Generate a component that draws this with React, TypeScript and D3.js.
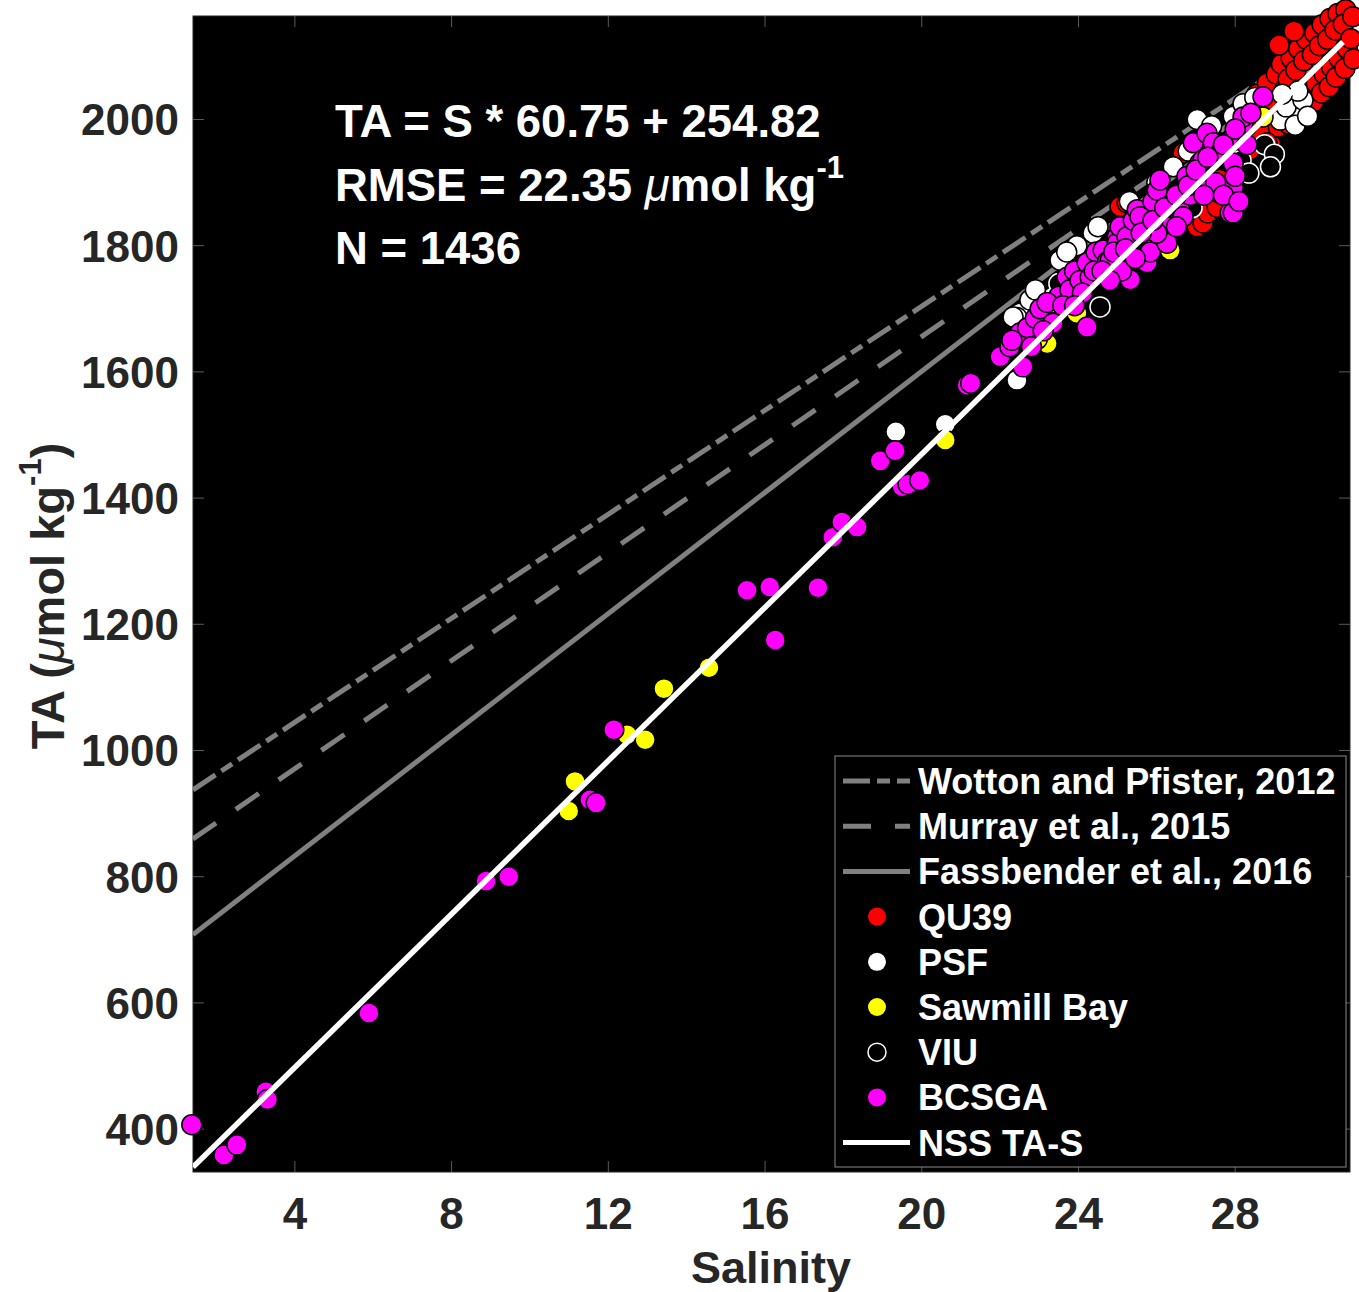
import React from 'react';
import * as d3 from 'd3';

const W = 1359;
const H = 1292;
const xDomain: [number, number] = [1.4, 30.93];
const yDomain: [number, number] = [332, 2164];
const xTicks = [4, 8, 12, 16, 20, 24, 28];
const yTicks = [400, 600, 800, 1000, 1200, 1400, 1600, 1800, 2000];
const lineSRange: [number, number] = [1.4, 30.75];

// QU39 (red)
const qu39: [number, number][] = [
  [28.55, 2040], [28.65, 1978], [28.82, 2058], [28.74, 2012], [28.9, 1962], [29.05, 2072], [28.95, 2028],
  [29.1, 1988], [29.18, 2088], [29.27, 2048], [29.22, 2003], [29.43, 2097], [29.35, 2064], [29.48, 2018],
  [29.38, 1992], [29.62, 2112], [29.55, 2078], [29.68, 2032], [29.6, 2006], [29.82, 2127], [29.75, 2093],
  [29.88, 2047], [29.8, 2017], [30.03, 2137], [29.97, 2103], [30.07, 2058], [30.0, 2028], [30.22, 2150],
  [30.15, 2117], [30.27, 2072], [30.2, 2042], [30.42, 2160], [30.36, 2127], [30.46, 2083], [30.4, 2052],
  [30.62, 2168], [30.55, 2142], [30.65, 2097], [30.58, 2067], [30.82, 2174], [30.76, 2151], [30.86, 2112],
  [30.8, 2081], [31.0, 2163], [30.95, 2128], [31.02, 2096], [29.12, 2118], [29.5, 2140],
  [25.06, 1862], [25.24, 1868], [26.93, 1857], [27.03, 1830], [27.18, 1836], [27.3, 1852], [27.54, 1861],
  [28.2, 1920], [28.38, 1952], [26.67, 1947], [28.81, 1963], [28.3, 1990], [28.0, 1975], [27.6, 1905],
];

// PSF (white)
const psf: [number, number][] = [
  [29.4, 2031], [29.66, 2015], [29.15, 1999], [29.53, 1991], [29.3, 2020], [29.73, 2031], [29.85, 2005],
  [29.6, 2045], [29.2, 2040], [27.95, 2005], [28.2, 2025], [28.5, 2035], [27.03, 2000], [27.4, 1990],
  [27.2, 1960], [26.42, 1925], [24.37, 1820], [23.53, 1777], [23.35, 1719], [23.35, 1709], [22.51, 1693],
  [22.43, 1587], [22.43, 1686], [22.76, 1714], [22.33, 1687], [23.96, 1800], [24.5, 1830], [26.0, 1900],
  [25.3, 1870], [26.8, 1950], [23.7, 1790], [22.9, 1730],
  [19.34, 1505], [20.6, 1517],
];

// Sawmill Bay (yellow)
const sawmill: [number, number][] = [
  [10.99, 904], [11.15, 951], [12.48, 1025], [12.94, 1017], [13.42, 1098], [14.57, 1131], [20.6, 1492],
  [24.74, 1746], [23.96, 1693], [23.2, 1645], [28.71, 2004], [27.62, 1883], [26.34, 1793], [22.95, 1652],
  [25.9, 1800],
];

// VIU (open)
const viu: [number, number][] = [
  [24.55, 1703], [28.75, 1960], [29.0, 1945], [28.9, 1925], [28.15, 1935], [28.35, 1915], [26.9, 1860],
  [23.5, 1740],
];

// BCSGA (magenta)
const bcsga: [number, number][] = [
  [1.37, 407], [2.19, 359], [2.52, 375], [3.26, 459], [3.3, 447], [5.89, 584], [8.88, 793], [9.46, 800],
  [11.53, 922], [11.69, 917], [12.14, 1033], [15.54, 1254], [16.12, 1259], [16.26, 1175], [17.35, 1258],
  [17.73, 1338], [17.96, 1362], [18.35, 1354], [18.94, 1459], [19.32, 1475], [19.5, 1418], [19.65, 1422],
  [19.95, 1428], [21.16, 1579], [21.25, 1582],
  [22.0, 1624], [22.25, 1640], [22.51, 1662], [22.58, 1608], [22.7, 1670], [22.9, 1685], [23.02, 1700],
  [23.35, 1677], [23.5, 1720], [23.71, 1750], [23.78, 1730], [23.9, 1760], [24.04, 1745], [24.22, 1671],
  [24.22, 1773], [24.3, 1750], [24.45, 1790], [24.63, 1793], [24.74, 1775], [24.81, 1777], [24.99, 1814],
  [24.99, 1804], [25.06, 1830], [25.24, 1814], [25.32, 1746], [25.4, 1840], [25.5, 1857], [25.57, 1846],
  [25.75, 1773], [25.83, 1790], [25.9, 1870], [26.01, 1888], [26.08, 1904], [26.26, 1804], [26.34, 1841],
  [26.42, 1860], [26.59, 1857], [26.67, 1846], [26.77, 1910], [26.85, 1880], [26.93, 1963], [27.1, 1931],
  [27.1, 1899], [27.18, 1936], [27.28, 1978], [27.44, 1963], [27.62, 1947], [27.87, 1852], [27.95, 1852],
  [27.95, 1893], [27.95, 1931], [27.95, 1972], [28.0, 1910], [28.2, 1994], [28.2, 2004], [28.3, 1960],
  [28.71, 2036], [23.2, 1710], [22.3, 1650], [25.1, 1760], [26.0, 1820], [27.5, 1900],
  [22.8, 1640], [23.1, 1665], [23.6, 1705], [24.1, 1725], [24.4, 1760], [24.9, 1790], [25.2, 1795],
  [25.6, 1820], [25.9, 1840], [26.2, 1860], [26.5, 1880], [26.8, 1895], [27.0, 1920], [27.3, 1940],
  [27.7, 1960], [28.0, 1985], [28.4, 2010], [24.6, 1760], [25.45, 1780], [26.5, 1830], [27.2, 1880],
  [27.7, 1880], [28.1, 1870], [23.9, 1705], [24.8, 1745],
];

const refLines = [
  { name: 'Wotton and Pfister, 2012', slope: 41.2, intercept: 880, dash: '27 7 13 7', color: '#808080' },
  { name: 'Murray et al., 2015', slope: 42.8, intercept: 800, dash: '28 24', color: '#808080' },
  { name: 'Fassbender et al., 2016', slope: 48.0, intercept: 641, dash: '', color: '#808080' },
];
const nssFit = { name: 'NSS TA-S', slope: 60.75, intercept: 254.82 };

const seriesList = [
  { name: 'QU39', data: qu39, fill: '#ff0000', stroke: '#000000' },
  { name: 'PSF', data: psf, fill: '#ffffff', stroke: '#000000' },
  { name: 'Sawmill Bay', data: sawmill, fill: '#ffff00', stroke: '#000000' },
  { name: 'VIU', data: viu, fill: '#000000', stroke: '#ffffff' },
  { name: 'BCSGA', data: bcsga, fill: '#ff00ff', stroke: '#000000' },
];

const FONT = "'Liberation Sans', Arial, Helvetica, sans-serif";
const AX = '#262626';

export default function App() {
  const left = 193, right = 1350, top = 16, bottom = 1172;
  const x = d3.scaleLinear().domain(xDomain).range([left, right]);
  const y = d3.scaleLinear().domain(yDomain).range([bottom, top]);

  const fitPath = (slope: number, intercept: number) =>
    d3.line<number>().x((s) => x(s)).y((s) => y(slope * s + intercept))(lineSRange) || '';

  const legendX = 835, legendY = 756, legendW = 511, legendH = 411;
  const rowY = (i: number) => 781 + i * 45.2;
  const legendRows = [
    ...refLines.map((l) => ({ kind: 'line', name: l.name, color: l.color, dash: l.dash })),
    ...seriesList.map((s) => ({ kind: 'dot', name: s.name, fill: s.fill, stroke: s.stroke })),
    { kind: 'line', name: nssFit.name, color: '#ffffff', dash: '' },
  ] as any[];

  return (
    <svg width={W} height={H} style={{ position: 'absolute', left: 0, top: 0, background: '#fff' }} fontFamily={FONT}>
      <defs>
        <clipPath id="plotclip">
          <rect x={left} y={top} width={right - left} height={bottom - top} />
        </clipPath>
      </defs>
      <rect x={0} y={0} width={W} height={H} fill="#fff" />
      <rect x={left} y={top} width={right - left} height={bottom - top} fill="#000" stroke={AX} strokeWidth={1} />

      {xTicks.map((t) => (
        <g key={'xt' + t}>
          <line x1={x(t)} x2={x(t)} y1={bottom} y2={bottom - 11} stroke="#5a5a5a" strokeWidth={1} />
          <line x1={x(t)} x2={x(t)} y1={top} y2={top + 11} stroke="#5a5a5a" strokeWidth={1} />
          <text x={x(t)} y={1229} textAnchor="middle" fontSize={44} fontWeight="bold" fill={AX}>{t}</text>
        </g>
      ))}
      {yTicks.map((t) => (
        <g key={'yt' + t}>
          <line x1={left} x2={left + 11} y1={y(t)} y2={y(t)} stroke="#5a5a5a" strokeWidth={1} />
          <line x1={right} x2={right - 11} y1={y(t)} y2={y(t)} stroke="#5a5a5a" strokeWidth={1} />
          <text x={179} y={y(t) + 16} textAnchor="end" fontSize={44} fontWeight="bold" fill={AX}>{t}</text>
        </g>
      ))}

      <text x={771} y={1283} textAnchor="middle" fontSize={45} fontWeight="bold" fill={AX}>Salinity</text>
      <g transform="translate(64,596) rotate(-90)">
        <text x={0} y={0} textAnchor="middle" fontSize={47} fontWeight="bold" fill={AX}>
          TA (<tspan fontStyle="italic" fontWeight="normal">μ</tspan>mol kg<tspan fontSize={31} dy={-23}>-1</tspan><tspan dy={23}>)</tspan>
        </text>
      </g>

      <g clipPath="url(#plotclip)">
        {refLines.map((l) => (
          <path key={l.name} d={fitPath(l.slope, l.intercept)} stroke={l.color} strokeWidth={5}
            strokeDasharray={l.dash || undefined} fill="none" />
        ))}
      </g>

      {seriesList.map((s) => (
        <g key={s.name}>
          {s.data.map((d, i) => (
            <circle key={i} cx={x(d[0])} cy={y(d[1])} r={10} fill={s.fill} stroke={s.stroke} strokeWidth={1.5} />
          ))}
        </g>
      ))}

      <g clipPath="url(#plotclip)">
        <path d={fitPath(nssFit.slope, nssFit.intercept)} stroke="#fff" strokeWidth={5.5} fill="none" />
      </g>

      <g fill="#fff" fontSize={45.5} fontWeight="bold">
        <text x={335} y={137}>TA = S * 60.75 + 254.82</text>
        <text x={335} y={201}>
          RMSE = 22.35 <tspan fontStyle="italic" fontWeight="normal">μ</tspan>mol kg<tspan fontSize={31} dy={-23}>-1</tspan>
        </text>
        <text x={335} y={264}>N = 1436</text>
      </g>

      <rect x={legendX} y={legendY} width={legendW} height={legendH} fill="#000" stroke="#8a8a8a" strokeWidth={1} />
      {legendRows.map((r, i) => (
        <g key={r.name}>
          {r.kind === 'line' ? (
            <line x1={843} x2={910} y1={rowY(i)} y2={rowY(i)} stroke={r.color} strokeWidth={5}
              strokeDasharray={r.dash || undefined} />
          ) : (
            <circle cx={877} cy={rowY(i)} r={9} fill={r.fill} stroke={r.name === 'VIU' ? '#fff' : 'none'} strokeWidth={1.5} />
          )}
          <text x={918} y={rowY(i) + 13} fontSize={36} fontWeight="bold" fill="#fff">{r.name}</text>
        </g>
      ))}
    </svg>
  );
}
